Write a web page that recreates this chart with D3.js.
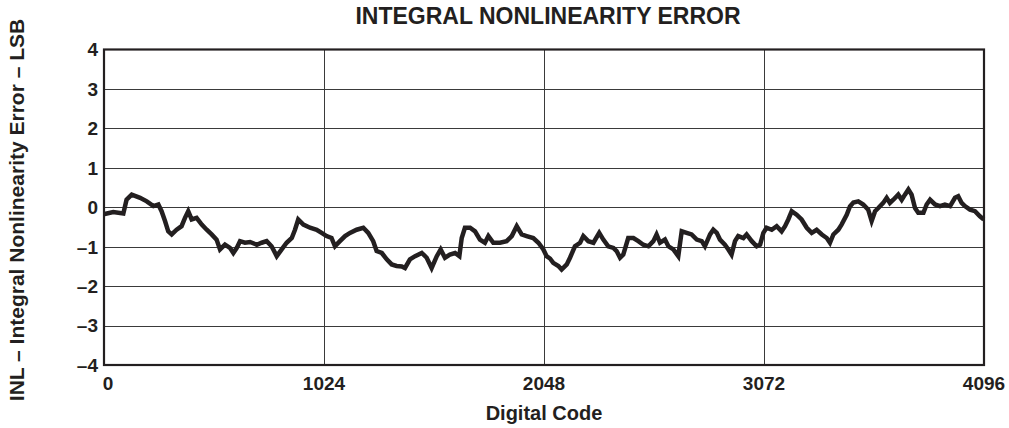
<!DOCTYPE html>
<html>
<head>
<meta charset="utf-8">
<script src="https://cdn.jsdelivr.net/npm/d3@7"></script>
<style>
  html, body { margin: 0; padding: 0; background: #fff; }
  svg { display: block; }
  text { font-family: "Liberation Sans", Arial, sans-serif; font-weight: bold; fill: #231f20; }
</style>
</head>
<body>
<div id="chart"></div>
<script>
// INL vs digital code
const codes = [3, 43, 90, 105, 129, 168, 199, 230, 253, 268, 284, 299, 315, 338, 361, 377, 392, 408, 431, 455,
  478, 501, 524, 540, 563, 586, 602, 618, 633, 656, 680, 711, 734, 757, 780, 804, 827, 850, 874, 889,
  904, 928, 959, 990, 1013, 1036, 1059, 1075, 1098, 1122, 1145, 1176, 1207, 1230, 1253, 1269, 1293, 1316, 1339, 1362,
  1386, 1401, 1424, 1448, 1479, 1502, 1525, 1549, 1567, 1587, 1610, 1634, 1654, 1665, 1680, 1704, 1727, 1750, 1773, 1789,
  1812, 1843, 1874, 1898, 1921, 1944, 1967, 1998, 2022, 2045, 2060, 2076, 2091, 2115, 2130, 2154, 2169, 2192, 2216, 2231,
  2254, 2278, 2305, 2324, 2347, 2371, 2386, 2402, 2417, 2440, 2464, 2487, 2510, 2534, 2557, 2572, 2588, 2611, 2627, 2650,
  2673, 2689, 2712, 2735, 2759, 2782, 2797, 2821, 2836, 2852, 2867, 2890, 2906, 2921, 2937, 2952, 2976, 2991, 3015, 3038,
  3054, 3069, 3084, 3108, 3131, 3154, 3170, 3185, 3201, 3224, 3247, 3271, 3294, 3317, 3341, 3364, 3379, 3395, 3418, 3433,
  3457, 3472, 3488, 3511, 3534, 3557, 3573, 3589, 3604, 3627, 3643, 3658, 3674, 3697, 3713, 3728, 3744, 3759, 3775, 3790,
  3814, 3829, 3845, 3868, 3891, 3914, 3938, 3961, 3976, 3992, 4007, 4031, 4054, 4077, 4095];
const inl = [-0.17, -0.12, -0.16, 0.19, 0.32, 0.24, 0.15, 0.03, 0.07, -0.10, -0.35, -0.61, -0.69, -0.57, -0.48, -0.27, -0.10, -0.31, -0.27, -0.44,
  -0.57, -0.69, -0.82, -1.07, -0.95, -1.03, -1.16, -1.03, -0.86, -0.90, -0.88, -0.95, -0.90, -0.86, -0.99, -1.24, -1.07, -0.90, -0.78, -0.57,
  -0.31, -0.44, -0.52, -0.57, -0.65, -0.73, -0.78, -0.99, -0.86, -0.73, -0.65, -0.57, -0.52, -0.65, -0.86, -1.11, -1.16, -1.32, -1.45, -1.49,
  -1.50, -1.54, -1.32, -1.24, -1.16, -1.28, -1.54, -1.24, -1.07, -1.28, -1.20, -1.16, -1.24, -0.78, -0.52, -0.52, -0.61, -0.82, -0.90, -0.73,
  -0.90, -0.90, -0.86, -0.73, -0.48, -0.69, -0.73, -0.78, -0.90, -1.07, -1.24, -1.30, -1.41, -1.49, -1.58, -1.45, -1.28, -0.99, -0.90, -0.73,
  -0.86, -0.90, -0.65, -0.82, -0.99, -1.03, -1.11, -1.28, -1.20, -0.78, -0.78, -0.86, -0.95, -0.99, -0.86, -0.69, -0.90, -0.82, -0.99, -1.07,
  -1.24, -0.61, -0.65, -0.69, -0.82, -0.86, -0.99, -0.69, -0.57, -0.65, -0.82, -0.95, -1.07, -1.20, -0.86, -0.73, -0.78, -0.69, -0.86, -0.99,
  -0.95, -0.65, -0.52, -0.57, -0.48, -0.61, -0.48, -0.31, -0.10, -0.19, -0.31, -0.52, -0.65, -0.57, -0.69, -0.78, -0.90, -0.69, -0.57, -0.44,
  -0.19, 0.02, 0.12, 0.15, 0.07, -0.06, -0.35, -0.10, -0.02, 0.11, 0.24, 0.11, 0.19, 0.32, 0.19, 0.32, 0.45, 0.32, -0.02, -0.14,
  -0.14, 0.07, 0.19, 0.07, 0.03, 0.07, 0.03, 0.24, 0.28, 0.11, 0.03, -0.06, -0.10, -0.23, -0.31];

const xTicks = [0, 1024, 2048, 3072, 4096];
const yTicks = [-4, -3, -2, -1, 0, 1, 2, 3, 4];

const title = "INTEGRAL NONLINEARITY ERROR";
const xTitle = "Digital Code";
const yTitle = "INL \u2013 Integral Nonlinearity Error \u2013 LSB";

const width = 1009, height = 428;
const margin = { left: 104, right: 25, top: 49.5, bottom: 63 };

const svg = d3.select("#chart").append("svg")
  .attr("width", width)
  .attr("height", height);

const x = d3.scaleLinear().domain([0, 4096]).range([margin.left, width - margin.right]);
const y = d3.scaleLinear().domain([-4, 4]).range([height - margin.bottom, margin.top]);

// grid
svg.append("g")
  .selectAll("line")
  .data(yTicks.slice(1, -1))
  .join("line")
  .attr("x1", x(0)).attr("x2", x(4096))
  .attr("y1", d => Math.round(y(d)) + 0.5).attr("y2", d => Math.round(y(d)) + 0.5)
  .attr("stroke", "#3a3a3a")
  .attr("stroke-width", 1);

svg.append("g")
  .selectAll("line")
  .data(xTicks.slice(1, -1))
  .join("line")
  .attr("x1", d => Math.round(x(d)) + 0.5).attr("x2", d => Math.round(x(d)) + 0.5)
  .attr("y1", y(4)).attr("y2", y(-4))
  .attr("stroke", "#3a3a3a")
  .attr("stroke-width", 1);

// frame
svg.append("rect")
  .attr("x", x(0)).attr("y", y(4))
  .attr("width", x(4096) - x(0))
  .attr("height", y(-4) - y(4))
  .attr("fill", "none")
  .attr("stroke", "#231f20")
  .attr("stroke-width", 2.2);

// trace
const line = d3.line()
  .x(d => x(d[0]))
  .y(d => y(d[1]));

svg.append("path")
  .datum(d3.zip(codes, inl))
  .attr("d", line)
  .attr("fill", "none")
  .attr("stroke", "#231f20")
  .attr("stroke-width", 4.5)
  .attr("stroke-linejoin", "miter")
  .attr("stroke-linecap", "butt");

// tick labels
const fmt = d => d < 0 ? "\u2013" + Math.abs(d) : String(d);

svg.append("g")
  .selectAll("text")
  .data(yTicks)
  .join("text")
  .attr("x", 98)
  .attr("y", d => y(d))
  .attr("dy", "0.36em")
  .attr("text-anchor", "end")
  .attr("font-size", 19)
  .text(fmt);

svg.append("g")
  .selectAll("text")
  .data(xTicks)
  .join("text")
  .attr("x", d => x(d) + (d === 0 ? 4 : 0))
  .attr("y", 390)
  .attr("text-anchor", "middle")
  .attr("font-size", 19)
  .text(fmt);

// titles
svg.append("text")
  .attr("x", 548).attr("y", 24)
  .attr("text-anchor", "middle")
  .attr("font-size", 23)
  .text(title);

svg.append("text")
  .attr("x", 544).attr("y", 420)
  .attr("text-anchor", "middle")
  .attr("font-size", 20)
  .text(xTitle);

svg.append("text")
  .attr("transform", "translate(24,210) rotate(-90)")
  .attr("text-anchor", "middle")
  .attr("font-size", 21)
  .text(yTitle);
</script>
</body>
</html>
